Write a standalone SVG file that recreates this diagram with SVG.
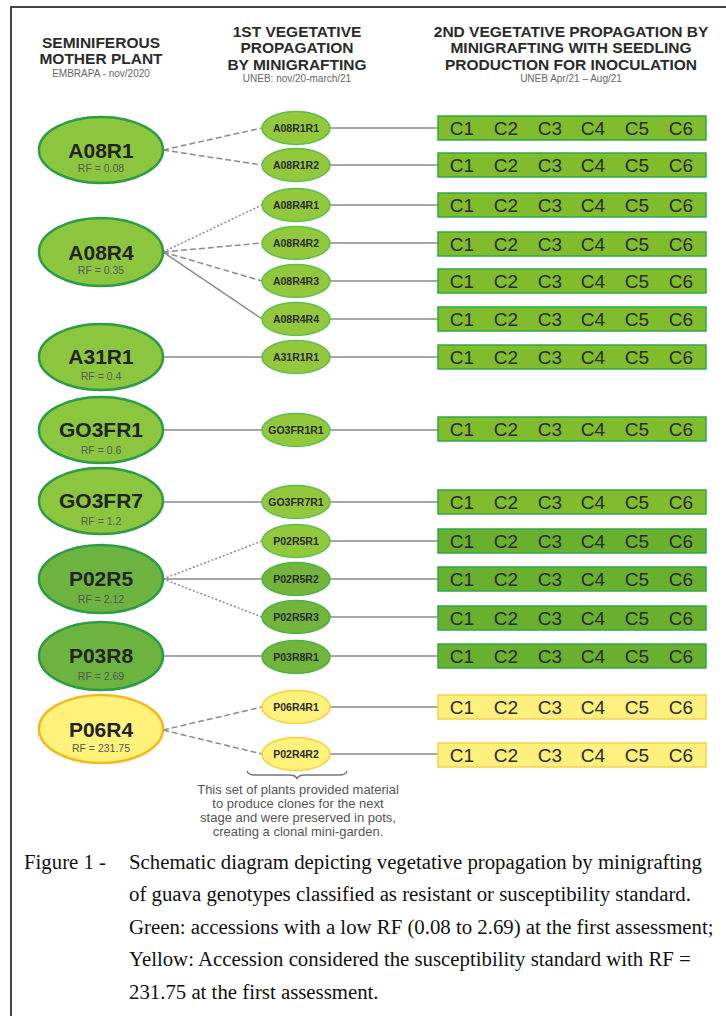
<svg xmlns="http://www.w3.org/2000/svg" width="726" height="1016" viewBox="0 0 726 1016">
<style>
.hd{font-family:"Liberation Sans",Arial,sans-serif;font-weight:bold;font-size:15.5px;fill:#2b2b2b;text-anchor:middle}
.sub{font-family:"Liberation Sans",Arial,sans-serif;font-size:10px;fill:#666;text-anchor:middle}
.big{fill:#8cc63f;stroke:#2a9d45;stroke-width:2.5}
.big2{fill:#6db33f;stroke:#2a9d45;stroke-width:2.5}
.bigy{fill:#fff27a;stroke:#f5b81c;stroke-width:2.5}
.mid{fill:#93c83c;stroke:#5cbf4a;stroke-width:1.5}
.mid2{fill:#72b53a;stroke:#4db24a;stroke-width:1.5}
.midy{fill:#fff27a;stroke:#f7cf3a;stroke-width:1.5}
.bar{fill:#80bc2c;stroke:#2fa84a;stroke-width:1.5}
.bar2{fill:#68b02e;stroke:#2fa84a;stroke-width:1.5}
.bary{fill:#fff07e;stroke:#f4d24a;stroke-width:1.5}
.bl{font-family:"Liberation Sans",Arial,sans-serif;font-weight:bold;font-size:21px;fill:#222;text-anchor:middle}
.rf{font-family:"Liberation Sans",Arial,sans-serif;font-size:10.5px;fill:#555;text-anchor:middle}
.ml{font-family:"Liberation Sans",Arial,sans-serif;font-weight:bold;font-size:10.5px;fill:#2a2a2a;text-anchor:middle}
.c{font-family:"Liberation Sans",Arial,sans-serif;font-size:19px;fill:#2a2a2a;text-anchor:middle}
.note{font-family:"Liberation Sans",Arial,sans-serif;font-size:13px;fill:#555;text-anchor:middle}
.cap{font-family:"Liberation Serif","Times New Roman",serif;font-size:20.8px;fill:#111}
.ln{stroke:#8a8a8a;stroke-width:1.5;fill:none}
.dl{stroke:#8a8a8a;stroke-width:1.5;fill:none;stroke-dasharray:6 3}
.dt{stroke:#8a8a8a;stroke-width:1.5;fill:none;stroke-dasharray:2 2}
</style>
<defs>
<g id="cs">
<text class="c" x="24" y="7">C1</text>
<text class="c" x="68" y="7">C2</text>
<text class="c" x="112" y="7">C3</text>
<text class="c" x="155" y="7">C4</text>
<text class="c" x="199" y="7">C5</text>
<text class="c" x="243" y="7">C6</text>
</g>
</defs>
<rect width="726" height="1016" fill="#ffffff"/>
<path d="M11,1016 V7 H726" fill="none" stroke="#444" stroke-width="2"/>

<g id="headers">
<text class="hd" x="101" y="48">SEMINIFEROUS</text>
<text class="hd" x="101" y="64">MOTHER PLANT</text>
<text class="sub" x="101" y="77">EMBRAPA - nov/2020</text>
<text class="hd" x="297" y="37">1ST VEGETATIVE</text>
<text class="hd" x="297" y="53">PROPAGATION</text>
<text class="hd" x="297" y="70">BY MINIGRAFTING</text>
<text class="sub" x="297" y="82">UNEB: nov/20-march/21</text>
<text class="hd" x="571" y="37">2ND VEGETATIVE PROPAGATION BY</text>
<text class="hd" x="571" y="53">MINIGRAFTING WITH SEEDLING</text>
<text class="hd" x="571" y="70">PRODUCTION FOR INOCULATION</text>
<text class="sub" x="571" y="82">UNEB Apr/21 – Aug/21</text>
</g>

<g id="connectors">
<line class="dl" x1="163" y1="150" x2="262" y2="128"/>
<line class="dl" x1="163" y1="150" x2="262" y2="165"/>
<line class="dt" x1="163" y1="252" x2="262" y2="205"/>
<line class="dl" x1="163" y1="252" x2="262" y2="243"/>
<line class="dl" x1="163" y1="252" x2="262" y2="281"/>
<line class="ln" x1="163" y1="252" x2="262" y2="319"/>
<line class="ln" x1="164" y1="357" x2="262" y2="357"/>
<line class="ln" x1="164" y1="430" x2="262" y2="430"/>
<line class="ln" x1="164" y1="502" x2="262" y2="502"/>
<line class="dt" x1="163" y1="579" x2="262" y2="541"/>
<line class="ln" x1="163" y1="579" x2="262" y2="579"/>
<line class="dt" x1="163" y1="579" x2="262" y2="617"/>
<line class="ln" x1="164" y1="656" x2="262" y2="656"/>
<line class="dl" x1="163" y1="730" x2="262" y2="707"/>
<line class="dl" x1="163" y1="730" x2="262" y2="754"/>
<line class="ln" x1="330" y1="128" x2="438" y2="128" stroke="#c8c8c8"/>
<line class="ln" x1="330" y1="165" x2="438" y2="165"/>
<line class="ln" x1="330" y1="205" x2="438" y2="205"/>
<line class="ln" x1="330" y1="243" x2="438" y2="243"/>
<line class="ln" x1="330" y1="281" x2="438" y2="281" stroke="#b0b0b0"/>
<line class="ln" x1="330" y1="319" x2="438" y2="319"/>
<line class="ln" x1="330" y1="357" x2="438" y2="357"/>
<line class="ln" x1="330" y1="430" x2="438" y2="430"/>
<line class="ln" x1="330" y1="502" x2="438" y2="502"/>
<line class="ln" x1="330" y1="541" x2="438" y2="541"/>
<line class="ln" x1="330" y1="579" x2="438" y2="579"/>
<line class="ln" x1="330" y1="617" x2="438" y2="617"/>
<line class="ln" x1="330" y1="656" x2="438" y2="656"/>
<line class="ln" x1="330" y1="707" x2="438" y2="707"/>
<line class="ln" x1="330" y1="754" x2="438" y2="754" stroke="#b0b0b0"/>
</g>

<g id="A08R1"><ellipse class="big" cx="101" cy="150" rx="62" ry="33"/><text class="bl" x="101" y="158">A08R1</text><text class="rf" x="101" y="172">RF = 0.08</text></g>
<g id="A08R4"><ellipse class="big" cx="101" cy="252" rx="62" ry="34"/><text class="bl" x="101" y="260">A08R4</text><text class="rf" x="101" y="274">RF = 0.35</text></g>
<g id="A31R1"><ellipse class="big" cx="101" cy="357" rx="62" ry="33"/><text class="bl" x="101" y="364">A31R1</text><text class="rf" x="101" y="380">RF = 0.4</text></g>
<g id="GO3FR1"><ellipse class="big" cx="101" cy="430" rx="62" ry="33"/><text class="bl" x="101" y="437">GO3FR1</text><text class="rf" x="101" y="454">RF = 0.6</text></g>
<g id="GO3FR7"><ellipse class="big" cx="101" cy="501" rx="62" ry="33"/><text class="bl" x="101" y="508">GO3FR7</text><text class="rf" x="101" y="525">RF = 1.2</text></g>
<g id="P02R5"><ellipse class="big2" cx="101" cy="579" rx="62" ry="34"/><text class="bl" x="101" y="586">P02R5</text><text class="rf" x="101" y="603">RF = 2.12</text></g>
<g id="P03R8"><ellipse class="big2" cx="101" cy="656" rx="62" ry="34"/><text class="bl" x="101" y="663">P03R8</text><text class="rf" x="101" y="680">RF = 2.69</text></g>
<g id="P06R4"><ellipse class="bigy" cx="101" cy="729" rx="62" ry="34"/><text class="bl" x="101" y="737">P06R4</text><text class="rf" x="101" y="752">RF = 231.75</text></g>

<g id="A08R1R1"><ellipse class="mid" cx="296" cy="128" rx="34" ry="16.5"/><text class="ml" x="296" y="132">A08R1R1</text></g>
<g id="A08R1R2"><ellipse class="mid" cx="296" cy="165" rx="34" ry="16.5"/><text class="ml" x="296" y="169">A08R1R2</text></g>
<g id="A08R4R1"><ellipse class="mid" cx="296" cy="205" rx="34" ry="16.5"/><text class="ml" x="296" y="209">A08R4R1</text></g>
<g id="A08R4R2"><ellipse class="mid" cx="296" cy="243" rx="34" ry="16.5"/><text class="ml" x="296" y="247">A08R4R2</text></g>
<g id="A08R4R3"><ellipse class="mid" cx="296" cy="281" rx="34" ry="16.5"/><text class="ml" x="296" y="285">A08R4R3</text></g>
<g id="A08R4R4"><ellipse class="mid" cx="296" cy="319" rx="34" ry="16.5"/><text class="ml" x="296" y="323">A08R4R4</text></g>
<g id="A31R1R1"><ellipse class="mid" cx="296" cy="357" rx="34" ry="16.5"/><text class="ml" x="296" y="361">A31R1R1</text></g>
<g id="GO3FR1R1"><ellipse class="mid" cx="296" cy="430" rx="34" ry="16.5"/><text class="ml" x="296" y="434">GO3FR1R1</text></g>
<g id="GO3FR7R1"><ellipse class="mid" cx="296" cy="502" rx="34" ry="16.5"/><text class="ml" x="296" y="506">GO3FR7R1</text></g>
<g id="P02R5R1"><ellipse class="mid" cx="296" cy="541" rx="34" ry="16.5"/><text class="ml" x="296" y="545">P02R5R1</text></g>
<g id="P02R5R2"><ellipse class="mid2" cx="296" cy="579" rx="34" ry="16.5"/><text class="ml" x="296" y="583">P02R5R2</text></g>
<g id="P02R5R3"><ellipse class="mid2" cx="296" cy="617" rx="34" ry="16.5"/><text class="ml" x="296" y="621">P02R5R3</text></g>
<g id="P03R8R1"><ellipse class="mid2" cx="296" cy="657" rx="34" ry="16.5"/><text class="ml" x="296" y="661">P03R8R1</text></g>
<g id="P06R4R1"><ellipse class="midy" cx="296" cy="707" rx="34" ry="16.5"/><text class="ml" x="296" y="711">P06R4R1</text></g>
<g id="P02R4R2"><ellipse class="midy" cx="296" cy="754" rx="34" ry="16.5"/><text class="ml" x="296" y="758">P02R4R2</text></g>

<g id="bar1"><rect class="bar" x="438" y="116" width="268" height="24"/><use href="#cs" x="438" y="128"/></g>
<g id="bar2"><rect class="bar" x="438" y="153" width="268" height="24"/><use href="#cs" x="438" y="165"/></g>
<g id="bar3"><rect class="bar" x="438" y="193" width="268" height="24"/><use href="#cs" x="438" y="205"/></g>
<g id="bar4"><rect class="bar" x="438" y="232" width="268" height="24"/><use href="#cs" x="438" y="244"/></g>
<g id="bar5"><rect class="bar" x="438" y="269" width="268" height="24"/><use href="#cs" x="438" y="281"/></g>
<g id="bar6"><rect class="bar" x="438" y="307" width="268" height="24"/><use href="#cs" x="438" y="319"/></g>
<g id="bar7"><rect class="bar" x="438" y="345" width="268" height="24"/><use href="#cs" x="438" y="357"/></g>
<g id="bar8"><rect class="bar" x="438" y="417" width="268" height="24"/><use href="#cs" x="438" y="429"/></g>
<g id="bar9"><rect class="bar" x="438" y="490" width="268" height="24"/><use href="#cs" x="438" y="502"/></g>
<g id="bar10"><rect class="bar2" x="438" y="529" width="268" height="24"/><use href="#cs" x="438" y="541"/></g>
<g id="bar11"><rect class="bar2" x="438" y="567" width="268" height="24"/><use href="#cs" x="438" y="579"/></g>
<g id="bar12"><rect class="bar2" x="438" y="606" width="268" height="24"/><use href="#cs" x="438" y="618"/></g>
<g id="bar13"><rect class="bar2" x="438" y="644" width="268" height="24"/><use href="#cs" x="438" y="656"/></g>
<g id="bar14"><rect class="bary" x="438" y="695" width="268" height="24"/><use href="#cs" x="438" y="707"/></g>
<g id="bar15"><rect class="bary" x="438" y="743" width="268" height="24"/><use href="#cs" x="438" y="755"/></g>

<g id="note">
<path d="M247,771 q1,4 8,4 h34 q7,0 8,4 q1,-4 8,-4 h34 q7,0 8,-4" fill="none" stroke="#777" stroke-width="1.3"/>
<text class="note" x="298" y="794">This set of plants provided material</text>
<text class="note" x="298" y="808">to produce clones for the next</text>
<text class="note" x="298" y="822">stage and were preserved in pots,</text>
<text class="note" x="298" y="836">creating a clonal mini-garden.</text>
</g>

<g id="caption">
<text class="cap" y="869"><tspan x="24">Figure 1 -</tspan><tspan x="129">Schematic diagram depicting vegetative propagation by minigrafting</tspan></text>
<text class="cap" x="129" y="901">of guava genotypes classified as resistant or susceptibility standard.</text>
<text class="cap" x="129" y="934">Green: accessions with a low RF (0.08 to 2.69) at the first assessment;</text>
<text class="cap" x="129" y="966">Yellow: Accession considered the susceptibility standard with RF =</text>
<text class="cap" x="129" y="999">231.75 at the first assessment.</text>
</g>
</svg>
